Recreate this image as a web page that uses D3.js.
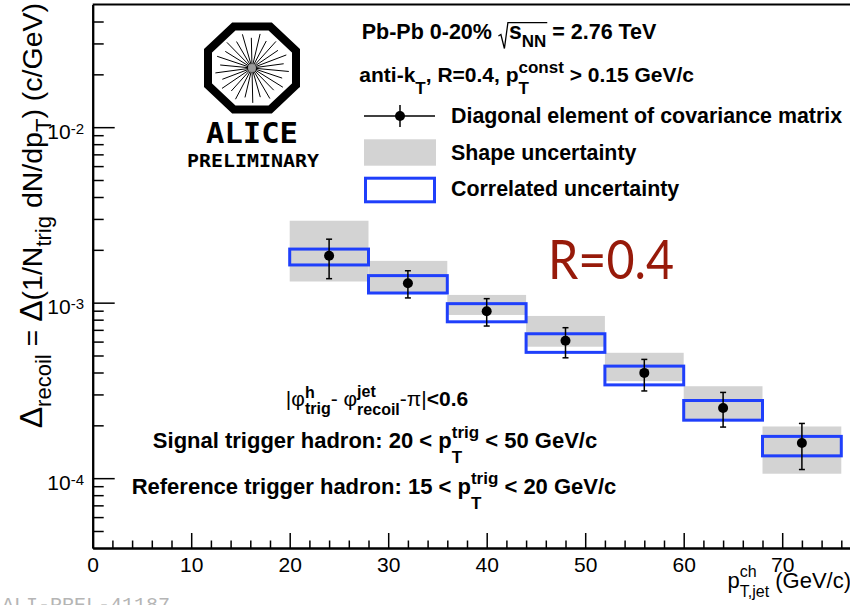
<!DOCTYPE html>
<html>
<head>
<meta charset="utf-8">
<script src="https://cdn.jsdelivr.net/npm/d3@7"></script>
<style>
  html, body { margin: 0; padding: 0; background: #fff; }
  svg { display: block; }
  text { white-space: pre; }
</style>
</head>
<body>
<svg id="chart" width="850" height="605"></svg>
<script>
// ---- data: recoil-jet yield difference per jet-pT bin ----
const binLow    = [20, 28, 36, 44, 52, 60, 68];
const binHigh   = [28, 36, 44, 52, 60, 68, 76];
const binCenter = [24, 32, 40, 48, 56, 64, 72];
const values    = [1.85e-3, 1.29e-3, 8.93e-4, 6.07e-4, 3.98e-4, 2.51e-4, 1.585e-4];
// diagonal element of covariance matrix (error bars)
const statHigh  = [2.30e-3, 1.52e-3, 1.054e-3, 7.20e-4, 4.75e-4, 3.08e-4, 2.05e-4];
const statLow   = [1.37e-3, 1.064e-3, 7.36e-4, 4.85e-4, 3.14e-4, 1.955e-4, 1.12e-4];
// shape uncertainty (grey boxes)
const shapeHigh = [2.93e-3, 1.73e-3, 1.107e-3, 8.40e-4, 5.18e-4, 3.34e-4, 1.97e-4];
const shapeLow  = [1.32e-3, 1.132e-3, 8.51e-4, 5.61e-4, 3.57e-4, 2.14e-4, 1.06e-4];
// correlated uncertainty (blue boxes)
const corrHigh  = [2.02e-3, 1.426e-3, 9.87e-4, 6.65e-4, 4.35e-4, 2.77e-4, 1.73e-4];
const corrLow   = [1.64e-3, 1.135e-3, 7.78e-4, 5.21e-4, 3.40e-4, 2.14e-4, 1.34e-4];

// ---- axes ----
const xTicks   = [0, 10, 20, 30, 40, 50, 60, 70];
const xMinor   = [2, 4, 6, 8, 12, 14, 16, 18, 22, 24, 26, 28, 32, 34, 36, 38, 42, 44, 46, 48,
                  52, 54, 56, 58, 62, 64, 66, 68, 72, 74, 76, 78];
const yDecades = [1e-4, 1e-3, 1e-2];
const yExpLabels = ["-4", "-3", "-2"];
const yMinor   = [5e-5, 6e-5, 7e-5, 8e-5, 9e-5, 2e-4, 3e-4, 4e-4, 5e-4, 6e-4, 7e-4, 8e-4, 9e-4,
                  2e-3, 3e-3, 4e-3, 5e-3, 6e-3, 7e-3, 8e-3, 9e-3, 2e-2, 3e-2, 4e-2];

const FONT = "'Liberation Sans', Arial, Helvetica, sans-serif";
const BLUE = "#1f3ffb";
const GREY = "#d3d3d3";

const svg = d3.select("#chart");
const x = d3.scaleLinear().domain([0, 80]).range([92.7, 880.7]);
const y = d3.scaleLog().domain([4e-5, 0.05]).range([548, 4.5]);

// Text built from pieces (sub/superscripts, stacked indices)
function rich(parent, pieces, o) {
  const g = parent.append("g").attr("transform", o.transform || `translate(${o.x},${o.y})`);
  const inner = g.append("g");
  let cursor = 0, lastStart = 0, lastEnd = 0;
  const ext = [];
  pieces.forEach(p => {
    if (p.gap) { ext.push({start: cursor, end: cursor + p.gap}); cursor += p.gap; lastStart = cursor; lastEnd = cursor; return; }
    const start = p.stack ? lastStart : cursor;
    const t = inner.append("text")
      .attr("x", start).attr("y", p.dy || 0)
      .attr("font-family", p.family || o.family || FONT)
      .attr("font-size", p.size || o.size)
      .attr("font-weight", p.weight || o.weight || "normal")
      .attr("fill", o.fill || "#000")
      .text(p.t);
    const w = t.node().getComputedTextLength();
    ext.push({start, end: start + w});
    if (p.stack) cursor = Math.max(lastEnd, start + w);
    else { lastStart = start; lastEnd = start + w; cursor = lastEnd; }
  });
  const shift = o.anchor === "middle" ? -cursor / 2 : o.anchor === "end" ? -cursor : 0;
  inner.attr("transform", `translate(${shift},0)`);
  return {g, inner, ext, width: cursor};
}

// ---- uncertainty boxes ----
const idx = d3.range(values.length);
svg.append("g").selectAll("rect").data(idx).join("rect")
  .attr("x", i => x(binLow[i])).attr("width", i => x(binHigh[i]) - x(binLow[i]))
  .attr("y", i => y(shapeHigh[i])).attr("height", i => y(shapeLow[i]) - y(shapeHigh[i]))
  .attr("fill", GREY);

svg.append("g").selectAll("rect").data(idx).join("rect")
  .attr("x", i => x(binLow[i])).attr("width", i => x(binHigh[i]) - x(binLow[i]))
  .attr("y", i => y(corrHigh[i])).attr("height", i => y(corrLow[i]) - y(corrHigh[i]))
  .attr("fill", "none").attr("stroke", BLUE).attr("stroke-width", 3);

// ---- error bars and markers ----
const pts = svg.append("g").selectAll("g").data(idx).join("g");
pts.append("line")
  .attr("x1", i => x(binCenter[i])).attr("x2", i => x(binCenter[i]))
  .attr("y1", i => y(statHigh[i])).attr("y2", i => y(statLow[i]))
  .attr("stroke", "#000").attr("stroke-width", 1.5);
[statHigh, statLow].forEach(arr => {
  pts.append("line")
    .attr("x1", i => x(binCenter[i]) - 3).attr("x2", i => x(binCenter[i]) + 3)
    .attr("y1", i => y(arr[i])).attr("y2", i => y(arr[i]))
    .attr("stroke", "#000").attr("stroke-width", 1.5);
});
pts.append("circle")
  .attr("cx", i => x(binCenter[i])).attr("cy", i => y(values[i])).attr("r", 5)
  .attr("fill", "#000");

// ---- axes ----
const axisStyle = g => {
  g.select(".domain").attr("stroke", "#000").attr("stroke-width", 2);
  g.selectAll(".tick line").attr("stroke", "#000").attr("stroke-width", 1.5);
};
svg.append("g").attr("transform", "translate(0,548)")
  .call(d3.axisBottom(x).tickValues(xMinor).tickSizeInner(-7.5).tickSizeOuter(0).tickFormat(""))
  .call(axisStyle);
svg.append("g").attr("transform", "translate(0,548)")
  .call(d3.axisBottom(x).tickValues(xTicks).tickSizeInner(-15).tickSizeOuter(0).tickPadding(9).tickFormat(d3.format("d")))
  .call(axisStyle)
  .call(g => g.selectAll("text").attr("font-family", FONT).attr("font-size", 21).attr("fill", "#000"));

svg.append("g").attr("transform", "translate(92.7,0)")
  .call(d3.axisLeft(y).tickValues(yMinor).tickSizeInner(-11).tickSizeOuter(0).tickFormat(""))
  .call(axisStyle);
svg.append("g").attr("transform", "translate(92.7,0)")
  .call(d3.axisLeft(y).tickValues(yDecades).tickSizeInner(-22).tickSizeOuter(0).tickFormat(""))
  .call(axisStyle);

// decade labels 10^n
yDecades.forEach((v, i) => {
  rich(svg, [
    {t: "10", size: 21},
    {t: yExpLabels[i], size: 15, dy: -5}
  ], {x: 84, y: y(v) + 11.7, anchor: "end", size: 21});
});

// top frame line
svg.append("line").attr("x1", 92.7).attr("x2", 850).attr("y1", 4.5).attr("y2", 4.5)
  .attr("stroke", "#000").attr("stroke-width", 2);

// ---- axis titles ----
rich(svg, [
  {t: "Δ", size: 32},
  {t: "recoil", size: 22, dy: 9},
  {t: " = "},
  {t: "Δ", size: 32},
  {t: "(1/N"},
  {t: "trig", size: 22, dy: 9},
  {t: " dN/dp"},
  {t: "T", size: 22, dy: 9},
  {t: ") (c/GeV)"}
], {transform: "translate(42,3) rotate(-90)", anchor: "end", size: 28.5});

rich(svg, [
  {t: "p"},
  {t: "ch", size: 16, dy: -11},
  {t: "T,jet", size: 16, dy: 9, stack: true},
  {t: " (GeV/c)"}
], {x: 851, y: 588, anchor: "end", size: 22});

// ---- header text ----
const hdr = rich(svg, [
  {t: "Pb-Pb 0-20% "},
  {gap: 11},
  {t: "s", size: 23},
  {t: "NN", size: 17, dy: 8},
  {t: " = 2.76 TeV"}
], {x: 361.7, y: 39, size: 21.5, weight: "bold"});
{
  const gs = hdr.ext[1].start, ne = hdr.ext[3].end;
  hdr.inner.append("path")
    .attr("d", `M${gs + 0.5},-3 L${gs + 3},-4.5 L${gs + 6.5},9.5 L${gs + 10},-16.3 L${ne + 1},-16.3`)
    .attr("fill", "none").attr("stroke", "#000").attr("stroke-width", 1.3);
}

rich(svg, [
  {t: "anti-k"},
  {t: "T", size: 17, dy: 12},
  {t: ", R=0.4, p"},
  {t: "const", size: 17, dy: -9},
  {t: "T", size: 17, dy: 12, stack: true},
  {t: " > 0.15 GeV/c"}
], {x: 359.3, y: 82, size: 21, weight: "bold"});

// ---- legend ----
const leg = svg.append("g");
leg.append("line").attr("x1", 364).attr("x2", 435).attr("y1", 116).attr("y2", 116)
  .attr("stroke", "#000").attr("stroke-width", 1.5);
leg.append("line").attr("x1", 400).attr("x2", 400).attr("y1", 105).attr("y2", 127)
  .attr("stroke", "#000").attr("stroke-width", 1.5);
leg.append("circle").attr("cx", 400).attr("cy", 116).attr("r", 5).attr("fill", "#000");
leg.append("rect").attr("x", 364).attr("y", 139.3).attr("width", 72).attr("height", 26.4).attr("fill", GREY);
leg.append("rect").attr("x", 365.5).attr("y", 178.2).attr("width", 69).attr("height", 23.6)
  .attr("fill", "none").attr("stroke", BLUE).attr("stroke-width", 3);
const legendLabels = ["Diagonal element of covariance matrix", "Shape uncertainty", "Correlated uncertainty"];
const legendBaselines = [123, 159.5, 196];
legendLabels.forEach((s, i) => {
  leg.append("text").attr("x", 451).attr("y", legendBaselines[i])
    .attr("font-family", FONT).attr("font-size", 21.4).attr("font-weight", "bold").text(s);
});

// ---- R=0.4 label ----
svg.append("text").attr("x", 548).attr("y", 279)
  .attr("font-family", "Lato, 'Open Sans', sans-serif").attr("font-size", 54)
  .attr("fill", "#971a0a").attr("textLength", 126).attr("lengthAdjust", "spacingAndGlyphs")
  .text("R=0.4");

// ---- selection texts ----
rich(svg, [
  {t: "|φ", weight: "normal"},
  {t: "h", size: 16, dy: -8},
  {t: "trig", size: 16, dy: 8, stack: true},
  {t: "- φ", weight: "normal"},
  {t: "jet", size: 16, dy: -9},
  {t: "recoil", size: 16, dy: 9, stack: true},
  {t: "-π|", weight: "normal"},
  {t: "<0.6"}
], {x: 377, y: 406, anchor: "middle", size: 21, weight: "bold"});

rich(svg, [
  {t: "Signal trigger hadron: 20 < p"},
  {t: "trig", size: 17, dy: -10},
  {t: "T", size: 17, dy: 15, stack: true},
  {t: " < 50 GeV/c"}
], {x: 375, y: 448, anchor: "middle", size: 22, weight: "bold"});

rich(svg, [
  {t: "Reference trigger hadron: 15 < p"},
  {t: "trig", size: 17, dy: -10},
  {t: "T", size: 17, dy: 15, stack: true},
  {t: " < 20 GeV/c"}
], {x: 374, y: 494, anchor: "middle", size: 22, weight: "bold"});

// ---- ALICE logo ----
const logo = svg.append("g").attr("transform", "translate(252,68)");
const sy = 41.5 / 44, R = 44 / Math.cos(Math.PI / 8);
const oct = d3.range(8).map(k => {
  const a = Math.PI / 8 + k * Math.PI / 4;
  return [R * Math.cos(a), R * Math.sin(a) * sy];
});
logo.append("path").attr("d", "M" + oct.map(p => p.join(",")).join("L") + "Z")
  .attr("fill", "none").attr("stroke", "#000").attr("stroke-width", 8).attr("stroke-linejoin", "miter");
const spokes = d3.range(26);
logo.append("g").selectAll("line").data(spokes).join("line")
  .attr("x1", k => 3 * Math.cos(k * 2 * Math.PI / 26 + 0.1))
  .attr("y1", k => 3 * Math.sin(k * 2 * Math.PI / 26 + 0.1) * sy)
  .attr("x2", k => (k % 2 ? 32 : 37) * Math.cos(k * 2 * Math.PI / 26 + 0.1))
  .attr("y2", k => (k % 2 ? 32 : 37) * Math.sin(k * 2 * Math.PI / 26 + 0.1) * sy)
  .attr("stroke", "#000").attr("stroke-width", 1);
logo.append("circle").attr("r", 4).attr("fill", "#9a9a9a");
svg.append("text").attr("x", 252).attr("y", 142.5).attr("text-anchor", "middle")
  .attr("font-family", "'DejaVu Sans Mono', monospace").attr("font-weight", "bold").attr("font-size", 29)
  .attr("textLength", 92).attr("lengthAdjust", "spacingAndGlyphs").text("ALICE");
svg.append("text").attr("x", 253).attr("y", 166.5).attr("text-anchor", "middle")
  .attr("font-family", "'DejaVu Sans Mono', monospace").attr("font-weight", "bold").attr("font-size", 17)
  .attr("textLength", 132).attr("lengthAdjust", "spacingAndGlyphs").text("PRELIMINARY");

// ---- figure id ----
svg.append("text").attr("x", 2).attr("y", 611)
  .attr("font-family", "'Liberation Mono', monospace").attr("font-size", 20)
  .attr("fill", "#b5b5b5").text("ALI-PREL-41187");
</script>
</body>
</html>
